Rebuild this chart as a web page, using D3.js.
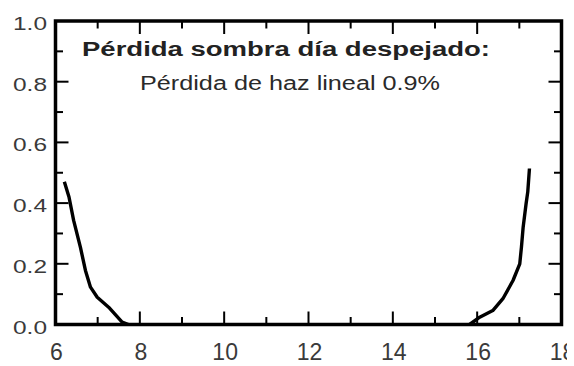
<!DOCTYPE html>
<html>
<head>
<meta charset="utf-8">
<script src="https://cdn.jsdelivr.net/npm/d3@7"></script>
<style>
  html, body { margin: 0; padding: 0; background: #fff; }
  svg { display: block; }
  text { font-family: "Liberation Sans", Arial, sans-serif; }
</style>
</head>
<body>
<svg id="chart" width="574" height="366"></svg>
<script>
// Shading loss over the hours of a clear day (morning and evening branches)
const morningHour = [6.21, 6.32, 6.43, 6.59, 6.71, 6.83, 6.99, 7.26, 7.58, 7.73];
const morningLoss = [0.47, 0.42, 0.343, 0.255, 0.178, 0.123, 0.09, 0.057, 0.008, 0.0];
const eveningHour = [15.82, 16.06, 16.37, 16.61, 16.85, 17.01, 17.05, 17.09, 17.16, 17.2, 17.24];
const eveningLoss = [0.0, 0.024, 0.046, 0.085, 0.145, 0.2, 0.255, 0.32, 0.398, 0.437, 0.514];

const xTickLabels = [6, 8, 10, 12, 14, 16, 18];
const yTickLabels = [0.0, 0.2, 0.4, 0.6, 0.8, 1.0];
const titleText = "Pérdida sombra día despejado:";
const subtitleText = "Pérdida de haz lineal 0.9%";

const svg = d3.select("#chart");
const plotLeft = 55.5, plotRight = 561.5, plotTop = 21, plotBottom = 324.5;

const x = d3.scaleLinear().domain([6, 18]).range([plotLeft, plotRight]);
const y = d3.scaleLinear().domain([0, 1]).range([plotBottom, plotTop]);

// the exported figure is trimmed just past the right frame
svg.append("defs").append("clipPath").attr("id", "trim")
  .append("rect").attr("x", 0).attr("y", 0).attr("width", 567).attr("height", 366);

// inward ticks on all four sides
const majorLen = 13, minorLen = 7.5;
const xMinor = d3.range(7, 18, 2);
const yMinor = d3.range(0.1, 1.0, 0.2);
const tickG = svg.append("g").attr("stroke", "#000").attr("stroke-width", 2);

function xTicks(vals, len) {
  vals.forEach(v => {
    tickG.append("line").attr("x1", x(v)).attr("x2", x(v)).attr("y1", plotBottom).attr("y2", plotBottom - len);
    tickG.append("line").attr("x1", x(v)).attr("x2", x(v)).attr("y1", plotTop).attr("y2", plotTop + len);
  });
}
function yTicks(vals, len) {
  vals.forEach(v => {
    tickG.append("line").attr("y1", y(v)).attr("y2", y(v)).attr("x1", plotLeft).attr("x2", plotLeft + len);
    tickG.append("line").attr("y1", y(v)).attr("y2", y(v)).attr("x1", plotRight).attr("x2", plotRight - len);
  });
}
xTicks(xTickLabels, majorLen);
xTicks(xMinor, minorLen);
yTicks(yTickLabels, majorLen);
yTicks(yMinor, minorLen);

// frame
svg.append("rect")
  .attr("x", plotLeft).attr("y", plotTop)
  .attr("width", plotRight - plotLeft).attr("height", plotBottom - plotTop)
  .attr("fill", "none").attr("stroke", "#000").attr("stroke-width", 3.5);

// tick labels
svg.append("g").attr("clip-path", "url(#trim)")
  .selectAll("text").data(xTickLabels).join("text")
  .attr("x", d => x(d) + 1).attr("y", 360)
  .attr("text-anchor", "middle")
  .attr("font-size", 23).attr("fill", "#3a3a3a")
  .text(d => d);

svg.append("g").selectAll("text").data(yTickLabels).join("text")
  .attr("x", 13).attr("y", d => y(d) + 9)
  .attr("font-size", 19).attr("fill", "#3a3a3a")
  .attr("textLength", 34).attr("lengthAdjust", "spacingAndGlyphs")
  .text(d => d.toFixed(1));

// curves
const line = d3.line().x(d => x(d[0])).y(d => y(d[1]));
[[morningHour, morningLoss], [eveningHour, eveningLoss]].forEach(([hs, ls]) => {
  svg.append("path")
    .datum(hs.map((h, i) => [h, ls[i]]))
    .attr("d", line)
    .attr("fill", "none").attr("stroke", "#000")
    .attr("stroke-width", 3.4).attr("stroke-linejoin", "round");
});

// annotation
svg.append("text")
  .attr("x", 82).attr("y", 56)
  .attr("font-size", 20).attr("font-weight", "bold").attr("fill", "#222")
  .attr("textLength", 408).attr("lengthAdjust", "spacingAndGlyphs")
  .text(titleText);
svg.append("text")
  .attr("x", 140).attr("y", 90)
  .attr("font-size", 20).attr("fill", "#2a2a2a")
  .attr("textLength", 300).attr("lengthAdjust", "spacingAndGlyphs")
  .text(subtitleText);
</script>
</body>
</html>
